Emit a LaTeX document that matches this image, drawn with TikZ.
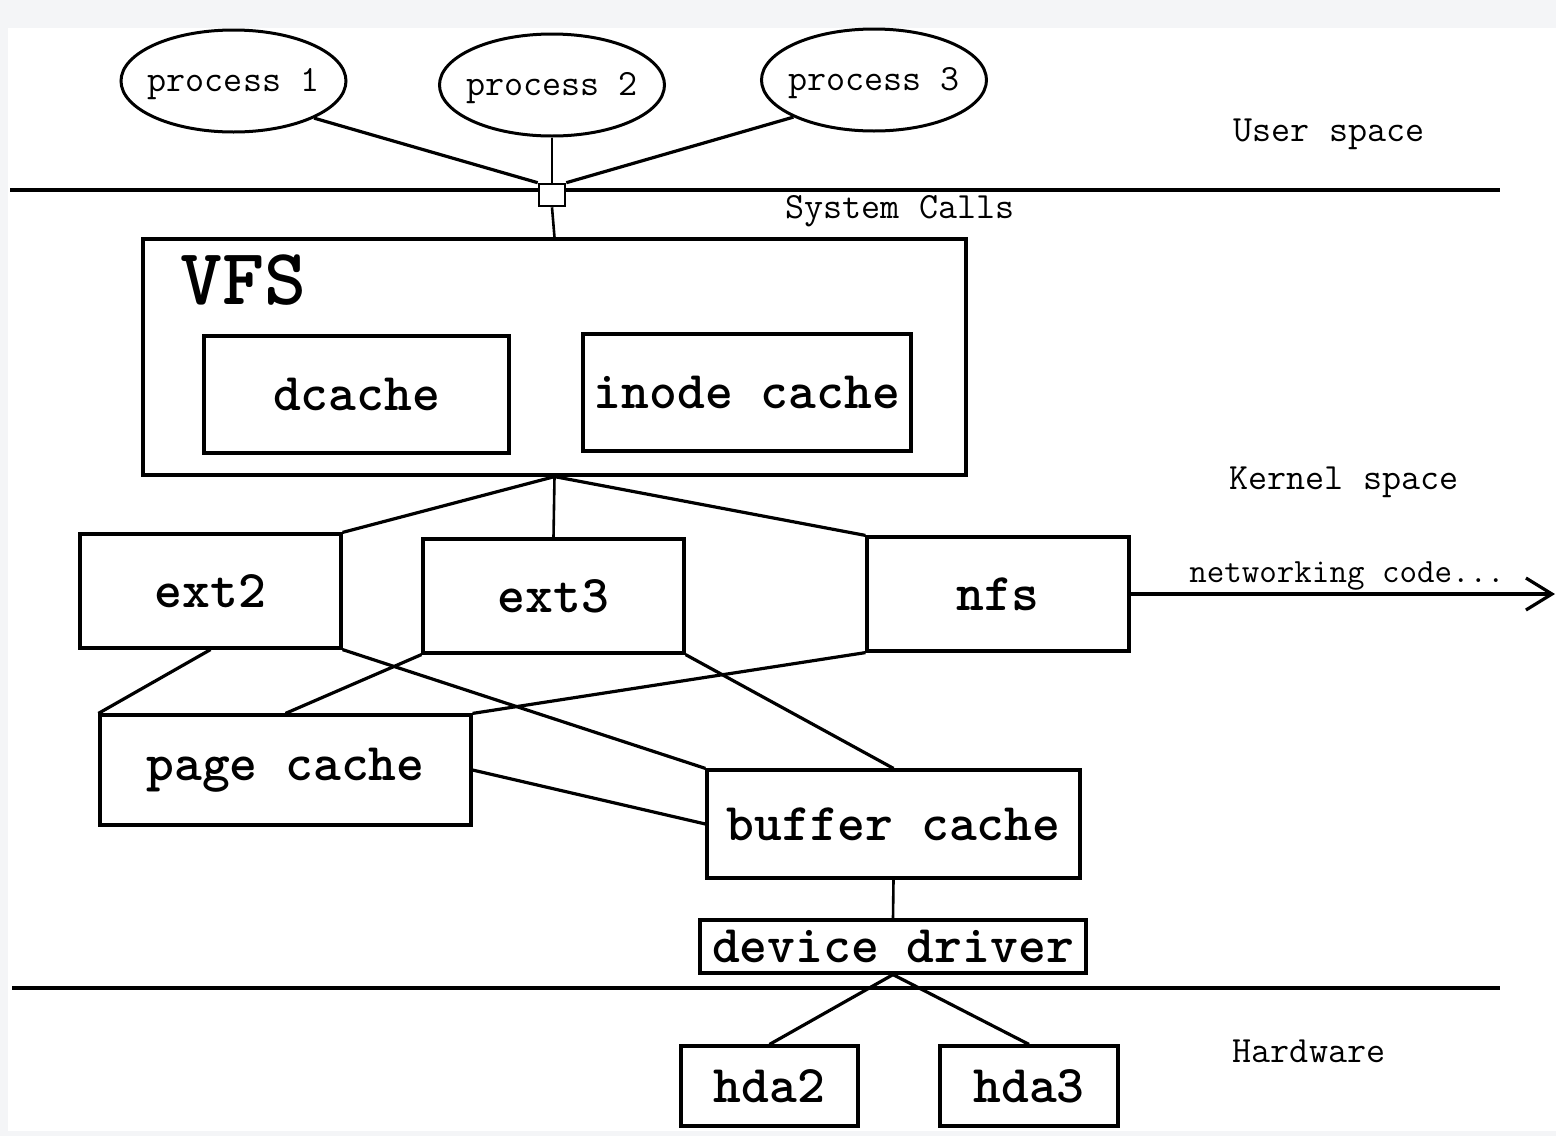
\documentclass[tikz,border=0pt]{standalone}
\usetikzlibrary{shapes.geometric,arrows.meta}
\definecolor{framegray}{HTML}{F4F5F7}
\tikzset{
  proc/.style={draw,ellipse,line width=3pt,minimum width=225pt,minimum height=102pt,inner sep=0pt},
  proctext/.style={inner sep=0pt,yshift=-3pt,font=\ttfamily\fontsize{37}{42}\selectfont},
  fsbox/.style={draw,rectangle,line width=3.2pt,inner sep=0pt,
    font=\ttfamily\bfseries\fontsize{53}{58}\selectfont},
  lbl/.style={inner sep=0pt,yshift=-3pt,font=\ttfamily\fontsize{37}{42}\selectfont},
  conn/.style={line width=3.2pt},
  thinconn/.style={line width=2.6pt},
  sep/.style={line width=3.8pt}
}
\begin{document}
\begin{tikzpicture}[x=1pt,y=-1pt]
\fill[framegray] (0,0) rectangle (1556,1136);
\fill[white] (8,28) rectangle (1556,1131);
\useasboundingbox (0,0) rectangle (1556,1136);

% processes
\node[proc] (p1) at (233.5,81) {};
\node[proctext] (p1t) at (p1.center) {process 1};
\node[proc] (p2) at (552,85) {};
\node[proctext] (p2t) at (p2.center) {process 2};
\node[proc] (p3) at (874,80) {};
\node[proctext] (p3t) at (p3.center) {process 3};

% separator lines
\coordinate (l1a) at (10,190);
\coordinate (l1b) at (1500,190);
\draw[sep] (l1a) -- (l1b);
\coordinate (l2a) at (12,988);
\coordinate (l2b) at (1500,988);
\draw[sep] (l2a) -- (l2b);

% system call square
\node[draw,fill=white,line width=2.6pt,minimum width=26pt,minimum height=22pt,inner sep=0pt] (sq) at (552,195) {};

% labels
\node[lbl] (us) at (1329,131) {User space};
\node[lbl] (sc) at (900,208) {System Calls};
\node[lbl] (ks) at (1344,479) {Kernel space};
\node[lbl] (hw) at (1309,1048) {Hardware};

% VFS
\node[fsbox,minimum width=823pt,minimum height=236pt] (vfs) at (554.5,357) {};
\node[inner sep=0pt,font=\ttfamily\bfseries\fontsize{80}{88}\selectfont] (vfsl) at (243,280) {VFS};
\node[fsbox,minimum width=305pt,minimum height=117pt] (dc) at (356.5,394.5) {dcache};
\node[fsbox,minimum width=328pt,minimum height=117pt] (ic) at (747,392.5) {inode cache};

% file systems
\node[fsbox,minimum width=261pt,minimum height=114pt] (ext2) at (210.5,591) {ext2};
\node[fsbox,minimum width=261pt,minimum height=114pt] (ext3) at (553.5,596) {ext3};
\node[fsbox,minimum width=262pt,minimum height=114pt] (nfs) at (998,594) {nfs};

% caches
\node[fsbox,minimum width=371pt,minimum height=110pt] (pc) at (285.5,770) {page cache};
\node[fsbox,minimum width=373pt,minimum height=108pt] (bc) at (893.5,824) {buffer cache};
\node[fsbox,minimum width=386pt,minimum height=53pt] (dd) at (893,946.5) {device driver};

% disks
\node[fsbox,minimum width=177pt,minimum height=80pt] (h2) at (769.5,1086) {hda2};
\node[fsbox,minimum width=178pt,minimum height=80pt] (h3) at (1029,1086) {hda3};

% connectors
\draw[conn] (p1.south east) -- (sq.north west);
\draw[thinconn] (p2.south) -- (sq.north);
\draw[conn] (p3.south west) -- (sq.north east);
\draw[thinconn] (sq.south) -- (vfs.north);

\draw[conn] (vfs.south) -- (ext2.north east);
\draw[thinconn] (vfs.south) -- (ext3.north);
\draw[conn] (vfs.south) -- (nfs.north west);

\draw[conn] (ext2.south) -- (pc.north west);
\draw[conn] (ext3.south west) -- (pc.north);
\draw[conn] (nfs.south west) -- (pc.north east);
\draw[conn] (ext2.south east) -- (bc.north west);
\draw[conn] (ext3.south east) -- (bc.north);
\draw[conn] (pc.east) -- (bc.west);

\draw[thinconn] (bc.south) -- (dd.north);
\draw[conn] (dd.south) -- (h2.north);
\draw[conn] (dd.south) -- (h3.north);

% networking
\coordinate (net) at (1555,594);
\draw[conn,-{Straight Barb[length=26pt,width=32pt,line width=3.2pt]}] (nfs.east) -- (net);
\node[inner sep=0pt,font=\ttfamily\fontsize{34}{38}\selectfont] (nc) at (1347,576) {networking code...};
\end{tikzpicture}
\end{document}
